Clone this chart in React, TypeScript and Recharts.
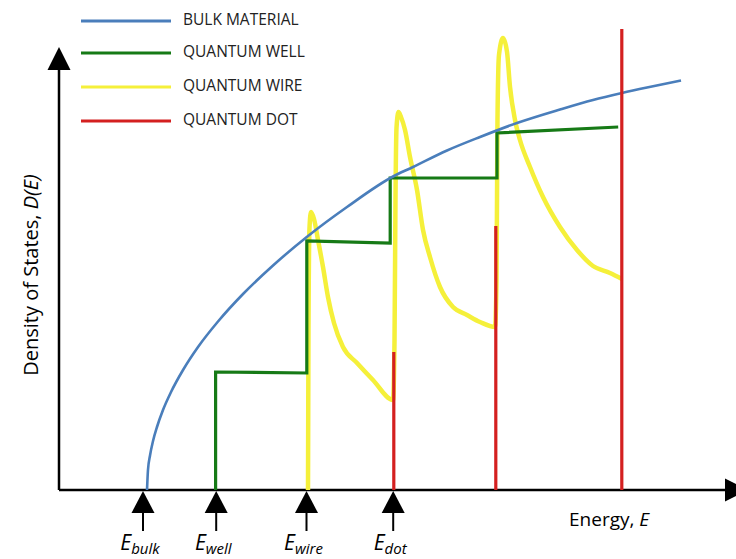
import { LineChart, Line, XAxis, YAxis, Legend, ReferenceLine, ReferenceDot, Label } from 'recharts'

// energy (x) and density of states (y), arbitrary units
const bulkEnergy = [14.67, 14.83, 15.17, 15.67, 16.33, 17.33, 18.67, 20.67, 23.17, 26.5, 30.67, 35.67, 41.5, 48, 55.67, 59, 64.67, 70.17, 76.33, 83.5, 89, 93.83, 98, 103.67]
const bulkDensity = [0, 4, 6.9, 9.8, 12.6, 16, 19.6, 24, 28.6, 33.7, 39.2, 44.9, 50.8, 56.6, 62.7, 64.6, 67.9, 70.6, 73.4, 76.1, 78, 79.4, 80.5, 81.9]

const wellEnergy = [26.1, 26.1, 41.3, 41.3, 55.2, 55.2, 73, 73, 93.2]
const wellDensity = [0, 23.6, 23.4, 49.8, 49.4, 62.4, 62.4, 71.4, 72.6]

const wireEnergy = [41.5, 41.58, 41.75, 42, 42.5, 43.17, 44, 44.83, 45.83, 47.33, 49.67, 52.33, 55.67, 55.92, 56.08, 56.25, 56.58, 57, 57.67, 58.5, 59.67, 60.67, 61.83, 63.5, 65.67, 68, 70.17, 72.67, 72.92, 73.08, 73.33, 74, 74.67, 75.17, 76, 76.83, 78.5, 80.67, 83.5, 86.33, 89, 91.83, 93.83]
const wireDensity = [0, 32, 52.4, 55.6, 54.2, 50, 44.6, 38.6, 33.4, 28.6, 25.4, 22, 18, 30, 58, 72.4, 75.6, 74.6, 72, 66.6, 60, 52, 46.6, 40.6, 36.6, 35, 33.6, 32.6, 42, 74, 87, 90.4, 87.6, 80.6, 74, 70, 64.6, 58.6, 52.6, 48, 44.8, 43.4, 42.2]

// delta spikes, null breaks the line between them
const dotEnergy = [55.8, 55.8, 55.8, 72.8, 72.8, 72.8, 93.8, 93.8]
const dotDensity: (number | null)[] = [0, 27.6, null, 0, 52.8, null, 0, 92.2]

const levelTicks = [14, 26.2, 41.25, 55.7]
const levelNames = ['bulk', 'well', 'wire', 'dot']

const seriesNames = ['BULK MATERIAL', 'QUANTUM WELL', 'QUANTUM WIRE', 'QUANTUM DOT']
const seriesColors = ['#4a7ebb', '#167a16', '#f5f03a', '#d42020']

const zip = (xs: number[], ys: (number | null)[]) => xs.map((e, i) => ({ e, d: ys[i] }))

const bulkData = zip(bulkEnergy, bulkDensity)
const wellData = zip(wellEnergy, wellDensity)
const wireData = zip(wireEnergy, wireDensity)
const dotData = zip(dotEnergy, dotDensity)

function LevelTick(props: any) {
	const { x, y, payload } = props
	const i = levelTicks.indexOf(payload.value)
	return (
		<g>
			<path d={`M${x},${y + 1} L${x - 11.5},${y + 23} L${x + 11.5},${y + 23} Z`} fill='#000' />
			<line x1={x} y1={y + 22} x2={x} y2={y + 41} stroke='#000' strokeWidth={2} />
			<text x={x - 3} y={y + 60} textAnchor='middle' fontStyle='italic' fontSize={21} fill='#000'>
				E<tspan fontSize={15} dy={4}>{levelNames[i]}</tspan>
			</text>
		</g>
	)
}

function LegendBox() {
	return (
		<svg width={380} height={140}>
			{seriesNames.map((name, i) => {
				const rowY = [21, 53, 87, 121][i]
				return (
					<g key={name}>
						<line x1={81} x2={171} y1={rowY} y2={rowY} stroke={seriesColors[i]} strokeWidth={3} />
						<text x={183} y={rowY + 4} fontSize={15.5} fill='#222'>{name}</text>
					</g>
				)
			})}
		</svg>
	)
}

export default function App() {
	return (
		<div style={{ position: 'absolute', left: 0, top: 0, background: '#fff' }}>
			<LineChart
				width={736}
				height={559}
				margin={{ top: 25, right: 5, bottom: 0, left: 0 }}
				style={{ fontFamily: "'Open Sans', sans-serif" }}
			>
				<XAxis
					dataKey='e'
					type='number'
					domain={[0, 112]}
					ticks={levelTicks}
					interval={0}
					height={69}
					axisLine={false}
					tickLine={false}
					tickSize={0}
					tickMargin={0}
					tick={<LevelTick />}
				>
					<Label
						content={(p: any) => (
							<text x={p.viewBox.x + 510} y={p.viewBox.y + 36} fontSize={19} fill='#000'>
								Energy, <tspan fontStyle='italic'>E</tspan>
							</text>
						)}
					/>
				</XAxis>
				<YAxis
					type='number'
					domain={[0, 93]}
					width={59}
					axisLine={false}
					tickLine={false}
					tick={false}
				>
					<Label
						content={(p: any) => {
							const cx = p.viewBox.x + 38
							const cy = p.viewBox.y + 250
							return (
								<text x={cx} y={cy} transform={`rotate(-90, ${cx}, ${cy})`} textAnchor='middle' fontSize={20} fill='#000'>
									Density of States, <tspan fontStyle='italic'>D(E)</tspan>
								</text>
							)
						}}
					/>
				</YAxis>
				<Legend
					layout='vertical'
					align='center'
					verticalAlign='middle'
					width={380}
					height={140}
					wrapperStyle={{ top: 0, left: 0 }}
					content={() => <LegendBox />}
				/>
				<ReferenceLine segment={[{ x: 0, y: 0 }, { x: 111, y: 0 }]} stroke='#000' strokeWidth={2.5} ifOverflow='visible' />
				<ReferenceLine segment={[{ x: 0, y: 0 }, { x: 0, y: 84 }]} stroke='#000' strokeWidth={2.5} ifOverflow='visible' />
				<ReferenceDot
					x={111}
					y={0}
					ifOverflow='visible'
					shape={(p: any) => <path d={`M${p.cx},${p.cy - 11.5} L${p.cx},${p.cy + 11.5} L${p.cx + 23},${p.cy} Z`} fill='#000' />}
				/>
				<ReferenceDot
					x={0}
					y={84}
					ifOverflow='visible'
					shape={(p: any) => <path d={`M${p.cx - 11.5},${p.cy} L${p.cx + 11.5},${p.cy} L${p.cx},${p.cy - 23} Z`} fill='#000' />}
				/>
				<Line data={wireData} dataKey='d' name={seriesNames[2]} type='monotone' stroke={seriesColors[2]} strokeWidth={4.5} dot={false} isAnimationActive={false} />
				<Line data={wellData} dataKey='d' name={seriesNames[1]} type='linear' stroke={seriesColors[1]} strokeWidth={3.2} dot={false} isAnimationActive={false} />
				<Line data={bulkData} dataKey='d' name={seriesNames[0]} type='monotone' stroke={seriesColors[0]} strokeWidth={2.6} dot={false} isAnimationActive={false} />
				<Line data={dotData} dataKey='d' name={seriesNames[3]} type='linear' stroke={seriesColors[3]} strokeWidth={3.2} dot={false} isAnimationActive={false} />
			</LineChart>
		</div>
	)
}
